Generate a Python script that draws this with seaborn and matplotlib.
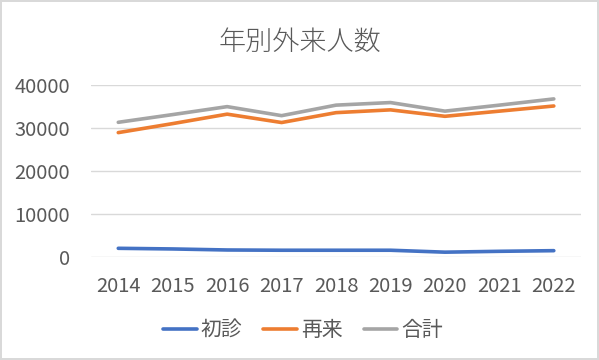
import pandas as pd
import seaborn as sns
import matplotlib.pyplot as plt

# ---- Data ----
years = [2014, 2015, 2016, 2017, 2018, 2019, 2020, 2021, 2022]
shoshin = [1950, 1800, 1560, 1500, 1500, 1500, 1050, 1250, 1400]
sairai = [28900, 31000, 33200, 31250, 33550, 34200, 32700, 33900, 35100]
goukei = [31300, 33100, 34950, 32850, 35300, 35900, 33900, 35300, 36750]
series_names = ["初診", "再来", "合計"]
colors = ["#4472C4", "#ED7D31", "#A5A5A5"]

df = pd.DataFrame({"年": years, "初診": shoshin, "再来": sairai, "合計": goukei})
long_df = df.melt(id_vars="年", var_name="区分", value_name="人数")

# ---- Plot ----
sns.set_theme(style="white")
plt.rcParams["font.family"] = ["Noto Sans CJK JP", "DejaVu Sans"]

fig = plt.figure(figsize=(5.99, 3.6), dpi=100)
fig.patch.set_edgecolor("#D9D9D9")
fig.patch.set_linewidth(1.5)
ax = fig.add_axes([0.152, 0.287, 0.818, 0.477])

sns.lineplot(data=long_df, x="年", y="人数", hue="区分", hue_order=series_names,
             palette=colors, linewidth=2.6, ax=ax, legend=True)

ax.set_xlim(2013.5, 2022.5)
ax.set_ylim(0, 40000)
ax.set_xticks(years)
ax.set_yticks([0, 10000, 20000, 30000, 40000])
ax.yaxis.grid(True, color="#D9D9D9", linewidth=1)
ax.set_axisbelow(True)
for side in ["top", "right", "left", "bottom"]:
    ax.spines[side].set_visible(False)
ax.tick_params(axis="both", length=0, labelsize=14.5, labelcolor="#595959")
ax.tick_params(axis="x", pad=14)
ax.tick_params(axis="y", pad=15)
ax.set_xlabel("")
ax.set_ylabel("")

fig.suptitle("年別外来人数", y=0.922, fontsize=19.5, color="#595959",
             fontweight="light")

handles, labels = ax.get_legend_handles_labels()
ax.get_legend().remove()
fig.legend(handles, labels, loc="center", bbox_to_anchor=(0.506, 0.083), ncol=3,
           frameon=False, fontsize=15, labelcolor="#595959", handlelength=1.6,
           handletextpad=0.2, columnspacing=1.0)

plt.savefig("out.png", dpi=100)
plt.close()
